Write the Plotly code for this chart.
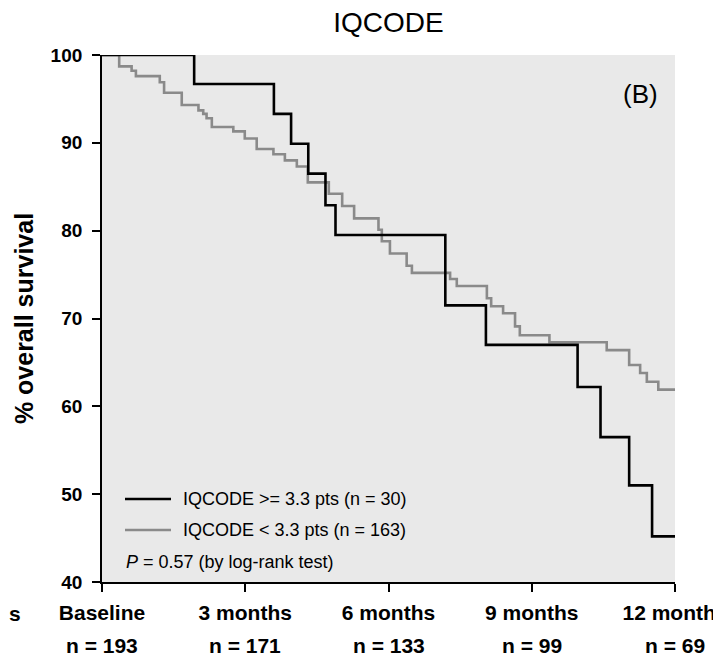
import plotly.graph_objects as go

# ---- data ----
black_t = [0, 1.93, 3.60, 3.96, 4.32, 4.68, 4.89, 7.19, 8.04, 9.96, 10.44, 11.04, 11.52, 12]
black_s = [100, 96.7, 93.3, 89.9, 86.5, 82.9, 79.5, 71.5, 67.0, 62.2, 56.5, 51.0, 45.2, 45.2]

gray_t = [0, 0.36, 0.62, 0.71, 1.21, 1.30, 1.67, 2.02, 2.12, 2.19, 2.30, 2.75, 2.99, 3.24,
          3.59, 3.83, 4.08, 4.31, 4.75, 5.03, 5.28, 5.79, 5.86, 6.03, 6.38, 6.49, 7.29, 7.43,
          8.06, 8.15, 8.40, 8.65, 8.75, 9.37, 10.57, 11.04, 11.27, 11.41, 11.65, 12]
gray_s = [100, 98.7, 98.2, 97.6, 96.9, 95.7, 94.3, 93.7, 93.3, 92.8, 91.8, 91.3, 90.5, 89.3,
          88.7, 88.0, 87.3, 85.5, 84.2, 82.8, 81.4, 80.1, 78.8, 77.4, 76.0, 75.2, 74.5, 73.7,
          72.3, 71.4, 70.6, 69.1, 68.1, 67.3, 66.4, 64.7, 63.8, 62.8, 61.9, 61.9]

tick_months = [0, 3, 6, 9, 12]
tick_labels = ["Baseline", "3 months", "6 months", "9 months", "12 months"]
at_risk = ["n = 193", "n = 171", "n = 133", "n = 99", "n = 69"]

y_ticks = [40, 50, 60, 70, 80, 90, 100]

series_names = ["IQCODE >= 3.3 pts (n = 30)", "IQCODE < 3.3 pts (n = 163)"]
series_colors = ["#000000", "#8a8a8a"]

FONT = "Liberation Sans, Arial, sans-serif"

fig = go.Figure()
fig.add_trace(go.Scatter(x=gray_t, y=gray_s, mode="lines", line_shape="hv",
                         line=dict(color=series_colors[1], width=2.6),
                         name=series_names[1], showlegend=False, hoverinfo="skip"))
fig.add_trace(go.Scatter(x=black_t, y=black_s, mode="lines", line_shape="hv",
                         line=dict(color=series_colors[0], width=2.6),
                         name=series_names[0], showlegend=False, hoverinfo="skip"))

# The page body has an 8px margin, so the figure is drawn 8px in from the window corner.
OFF = 8
W, H = 721 - OFF, 657 - OFF
ml, mt = 102 - OFF, 55 - OFF
pw, ph = 573, 527
mr, mb = W - ml - pw, H - mt - ph


def px_to_paper_x(px):  # px in window pixels
    return (px - OFF - ml) / pw


def py_to_paper_y(py):  # py in window pixels
    return (mt + ph - (py - OFF)) / ph


annotations = []
shapes = []

# manual legend
legend_rows = [499, 530]
for name, col, row in zip(series_names, series_colors, legend_rows):
    shapes.append(dict(type="line", xref="paper", yref="paper",
                       x0=px_to_paper_x(125), x1=px_to_paper_x(171),
                       y0=py_to_paper_y(row), y1=py_to_paper_y(row),
                       line=dict(color=col, width=2.6)))
    annotations.append(dict(text=name, xref="paper", yref="paper",
                            x=px_to_paper_x(181), y=py_to_paper_y(row),
                            xanchor="left", yanchor="middle", showarrow=False,
                            font=dict(family=FONT, size=18, color="#000")))
annotations.append(dict(text="<i>P</i> = 0.57 (by log-rank test)", xref="paper", yref="paper",
                        x=px_to_paper_x(124), y=py_to_paper_y(562),
                        xanchor="left", yanchor="middle", showarrow=False,
                        font=dict(family=FONT, size=18, color="#000")))

# panel letter
annotations.append(dict(text="(B)", xref="paper", yref="paper",
                        x=px_to_paper_x(640), y=py_to_paper_y(94),
                        xanchor="center", yanchor="middle", showarrow=False,
                        font=dict(family=FONT, size=26, color="#000")))

# numbers at risk
for m, n in zip(tick_months, at_risk):
    annotations.append(dict(text="<b>%s</b>" % n, xref="x", yref="paper",
                            x=m, y=py_to_paper_y(645), xanchor="center", yanchor="middle",
                            showarrow=False, font=dict(family=FONT, size=21, color="#000")))

# cut-off row label at far left
annotations.append(dict(text="<b>s</b>", xref="paper", yref="paper",
                        x=px_to_paper_x(23), y=py_to_paper_y(613), xanchor="right",
                        yanchor="middle", showarrow=False,
                        font=dict(family=FONT, size=21, color="#000")))

fig.update_layout(
    width=W, height=H,
    margin=dict(l=ml, r=mr, t=mt, b=mb),
    paper_bgcolor="white",
    plot_bgcolor="#e9e9e9",
    title=dict(text="IQCODE", x=(ml + pw / 2) / W, xanchor="center",
               y=1 - (22 - OFF) / H, yanchor="middle", yref="container",
               font=dict(family=FONT, size=28, color="#000")),
    annotations=annotations,
    shapes=shapes,
    showlegend=False,
)

fig.update_xaxes(range=[0, 12], tickvals=tick_months,
                 ticktext=["<b>%s</b>" % t for t in tick_labels],
                 ticks="outside", ticklen=8, tickwidth=1.5, tickcolor="#000",
                 showline=True, linecolor="#000", linewidth=1.8,
                 showgrid=False, zeroline=False, automargin=False,
                 ticklabelstandoff=3, ticklabeloverflow="allow",
                 tickfont=dict(family=FONT, size=21, color="#000"))
fig.update_yaxes(range=[40, 100], tickvals=y_ticks,
                 ticktext=["<b>%d</b>" % v for v in y_ticks],
                 ticks="outside", ticklen=8, tickwidth=1.5, tickcolor="#000",
                 showline=True, linecolor="#000", linewidth=1.8,
                 showgrid=False, zeroline=False, automargin=False,
                 ticklabelstandoff=6,
                 title=dict(text="<b>% overall survival</b>", standoff=10,
                            font=dict(family=FONT, size=25, color="#000")),
                 tickfont=dict(family=FONT, size=19, color="#000"))

fig.write_html("out.html")
